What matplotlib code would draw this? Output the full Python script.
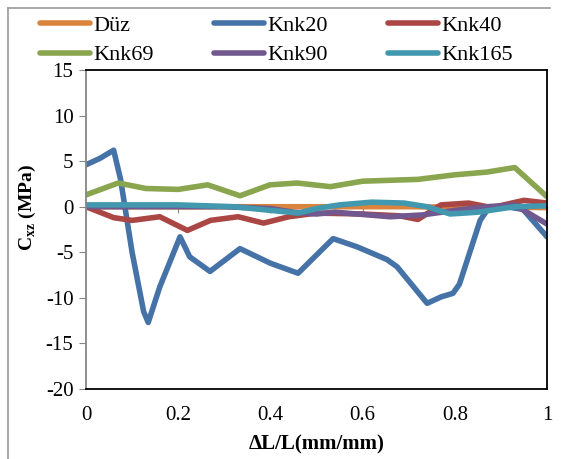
import matplotlib
matplotlib.use('Agg')
import matplotlib.pyplot as plt
from matplotlib.lines import Line2D

plt.rcParams['font.family'] = ['Liberation Serif', 'DejaVu Serif']
plt.rcParams['mathtext.fontset'] = 'custom'
plt.rcParams['mathtext.rm'] = 'Liberation Serif'
plt.rcParams['mathtext.bf'] = 'Liberation Serif:bold'
plt.rcParams['axes.unicode_minus'] = False

# data (strain ratio vs stress)
x_duz = [0, 0.1, 0.2, 0.3, 0.4, 0.5, 0.6, 0.7, 0.8, 0.9, 1.0]
y_duz = [0, 0, 0, 0, 0, 0, 0, 0, -0.05, -0.05, -0.1]

x_k20 = [0, 0.03, 0.06, 0.075, 0.10, 0.125, 0.135, 0.16, 0.204, 0.225, 0.269,
         0.334, 0.40, 0.46, 0.536, 0.588, 0.653, 0.675, 0.74, 0.77, 0.796,
         0.81, 0.855, 0.875, 0.913, 0.948, 1.0]
y_k20 = [4.6, 5.3, 6.2, 3.0, -5.0, -11.5, -12.7, -8.8, -3.3, -5.5, -7.1,
         -4.6, -6.2, -7.3, -3.5, -4.4, -5.8, -6.6, -10.6, -9.9, -9.5,
         -8.5, -1.5, 0.0, 0.0, -0.3, -3.3]

x_k40 = [0, 0.06, 0.10, 0.16, 0.22, 0.27, 0.33, 0.385, 0.44, 0.50, 0.60,
         0.68, 0.72, 0.77, 0.83, 0.88, 0.95, 1.0]
y_k40 = [0, -1.2, -1.5, -1.1, -2.6, -1.5, -1.1, -1.8, -1.1, -0.7, -0.8,
         -1.0, -1.4, 0.2, 0.4, -0.1, 0.7, 0.4]

x_k69 = [0, 0.07, 0.13, 0.20, 0.264, 0.334, 0.399, 0.458, 0.53, 0.60, 0.72,
         0.80, 0.87, 0.93, 1.0]
y_k69 = [1.3, 2.6, 2.0, 1.9, 2.4, 1.2, 2.4, 2.6, 2.2, 2.8, 3.0,
         3.5, 3.8, 4.3, 1.1]

x_k90 = [0, 0.1, 0.2, 0.3, 0.4, 0.45, 0.5, 0.54, 0.66, 0.73, 0.80, 0.87,
         0.93, 1.0]
y_k90 = [0, 0, 0, 0, -0.2, -0.6, -0.8, -0.6, -1.1, -0.9, -0.4, 0,
         0.2, -1.9]

x_k165 = [0, 0.2, 0.32, 0.40, 0.46, 0.50, 0.55, 0.62, 0.69, 0.74, 0.79,
          0.85, 0.93, 1.0]
y_k165 = [0.2, 0.2, 0.0, -0.4, -0.7, -0.2, 0.2, 0.5, 0.4, 0.0, -0.8,
          -0.6, 0.0, 0.1]

names = ['Düz', 'Knk20', 'Knk40', 'Knk69', 'Knk90', 'Knk165']
colors = ['#DB843D', '#4572A7', '#AA4643', '#89A54E', '#71588F', '#4198AF']
series = [(x_duz, y_duz), (x_k20, y_k20), (x_k40, y_k40),
          (x_k69, y_k69), (x_k90, y_k90), (x_k165, y_k165)]

fig = plt.figure(figsize=(5.61, 4.59), dpi=100)
ax = fig.add_axes([86/561, 1-389/459, 461/561, 319/459])

# horizontal axis crossing at 0 (gray, ticks down)
sec = ax.secondary_xaxis(20/35)
sec.set_xticks([0, 0.2, 0.4, 0.6, 0.8, 1.0])
sec.tick_params(axis='x', direction='out', length=4, width=0.8, color='#868686',
                labelbottom=False, labeltop=False, bottom=True, top=False)
sec.spines['bottom'].set_color('#868686')
sec.spines['bottom'].set_linewidth(1.0)
sec.set_zorder(1)

handles = []
for (xs, ys), name, c in zip(series, names, colors):
    ln, = ax.plot(xs, ys, color=c, lw=4, solid_capstyle='round',
                  solid_joinstyle='round', label=name, zorder=2)
    handles.append(ln)

ax.set_xlim(0, 1)
ax.set_ylim(-20, 15)
ax.set_yticks([15, 10, 5, 0, -5, -10, -15, -20])
ax.set_xticks([0, 0.2, 0.4, 0.6, 0.8, 1.0])
ax.set_xticklabels(['0', '0.2', '0.4', '0.6', '0.8', '1'])
ax.tick_params(axis='y', direction='out', length=5, width=0.8, color='#868686',
               labelsize=15, pad=4)
ax.tick_params(axis='x', length=0, labelsize=15, pad=12)

for s in ['top', 'right', 'bottom']:
    ax.spines[s].set_color('black')
    ax.spines[s].set_linewidth(1.3)
ax.spines['left'].set_color('#868686')
ax.spines['left'].set_linewidth(1.3)

ax.set_xlabel('ΔL/L(mm/mm)', fontsize=15, fontweight='bold', labelpad=7)
fig.text(27/561, 1-208/459, r'$\mathbf{C}_{\mathbf{xz}}$ (MPa)', rotation=90,
         fontsize=14, fontweight='bold', ha='center', va='center')

# legend fills row by row: reorder for matplotlib's column-major layout
order = [0, 3, 1, 4, 2, 5]
fig.legend([handles[i] for i in order], [names[i] for i in order], ncol=3,
           loc='upper left', bbox_to_anchor=(40/561, 1-15/459),
           borderpad=0, borderaxespad=0,
           frameon=False, fontsize=16, handlelength=2.25, handletextpad=0.15,
           columnspacing=2.7, labelspacing=0.42)

# chart area border
fig.add_artist(Line2D([8/561, 8/561], [0, 1-8/459], color='#9a9a9a', lw=1.2))
fig.add_artist(Line2D([8/561, 550/561], [1-8/459, 1-8/459], color='#9a9a9a', lw=1.2))

fig.savefig('out.png', dpi=100)
